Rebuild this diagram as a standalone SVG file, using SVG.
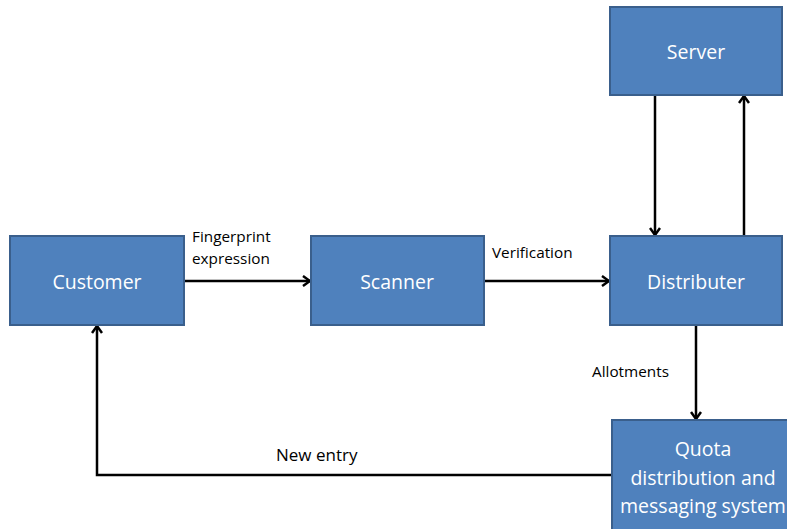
<svg xmlns="http://www.w3.org/2000/svg" width="787" height="529" viewBox="0 0 787 529">
<style>
.box{fill:#4F81BD;stroke:#3A5F8C;stroke-width:2}
.bt{fill:#fff;font-family:"Open Sans","Liberation Sans",sans-serif;font-size:19.5px;text-anchor:middle;dominant-baseline:central}
.lbl{fill:#000;font-family:"Open Sans","Liberation Sans",sans-serif;font-size:15.3px}
.c{fill:none;stroke:#000;stroke-width:2.5;marker-end:url(#ah)}
</style>
<defs>
<marker id="ah" viewBox="0 0 12 12" refX="10" refY="6" markerWidth="12" markerHeight="12" markerUnits="userSpaceOnUse" orient="auto">
<path d="M3,1 L10,6 L3,11" fill="none" stroke="#000" stroke-width="2.5"/>
</marker>
</defs>
<rect width="787" height="529" fill="#fff"/>
<g id="connectors">
<line class="c" x1="184" y1="281" x2="310" y2="281"/>
<line class="c" x1="484" y1="281" x2="609" y2="281"/>
<line class="c" x1="655" y1="95" x2="655" y2="235"/>
<line class="c" x1="744" y1="236" x2="744" y2="96"/>
<line class="c" x1="696" y1="325" x2="696" y2="419"/>
<polyline class="c" points="612,475 97,475 97,326"/>
<text class="lbl" x="192" y="242">Fingerprint</text>
<text class="lbl" x="192" y="264">expression</text>
<text class="lbl" x="492" y="258">Verification</text>
<text class="lbl" x="592" y="377">Allotments</text>
<text class="lbl" x="276" y="461" style="font-size:17px">New entry</text>
</g>
<g id="customer"><rect class="box" x="10" y="236" width="174" height="89"/><text class="bt" x="97" y="281">Customer</text></g>
<g id="scanner"><rect class="box" x="311" y="236" width="173" height="89"/><text class="bt" x="397" y="281">Scanner</text></g>
<g id="distributer"><rect class="box" x="610" y="236" width="172" height="89"/><text class="bt" x="696" y="281">Distributer</text></g>
<g id="server"><rect class="box" x="610" y="7" width="172" height="88"/><text class="bt" x="696" y="51">Server</text></g>
<g id="quota"><rect class="box" x="612" y="420" width="182" height="120"/>
<text class="bt" x="703" y="448">Quota</text>
<text class="bt" x="703" y="477">distribution and</text>
<text class="bt" x="703" y="505">messaging system</text></g>
</svg>
